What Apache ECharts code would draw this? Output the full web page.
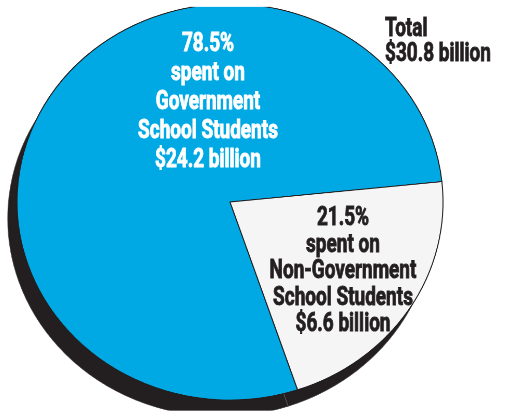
<!DOCTYPE html>
<html>
<head>
<meta charset="utf-8">
<script src="https://cdn.jsdelivr.net/npm/echarts@6/dist/echarts.min.js"></script>
<style>
  html, body { margin: 0; padding: 0; background: #ffffff; }
  #wrap { position: relative; width: 506px; height: 418px; overflow: hidden; }
  #pie, #text { position: absolute; left: 0; top: 0; width: 506px; height: 418px; }
  /* the pie is drawn slightly oval */
  #pie { transform-origin: 230px 202px; transform: scale(1.039, 0.966); }
  #text { pointer-events: none; }
</style>
</head>
<body>
<div id="wrap">
  <div id="pie"></div>
  <div id="text"></div>
</div>
<script>
// School funding split, in percent of total and in billions of dollars
const segments = ['Government School Students', 'Non-Government School Students'];
const shares = [78.5, 21.5];
const amounts = [24.2, 6.6];
const totalAmount = 30.8;

const sliceColors = ['#00a9e4', '#f5f5f5'];
const inkColor = '#231f20';

const pieData = segments.map((name, i) => ({ name, value: shares[i] }));

const pieChart = echarts.init(document.getElementById('pie'), null, { renderer: 'canvas', devicePixelRatio: 2 });
pieChart.setOption({
  animation: false,
  series: [
    {
      // dark base that shows as a rim below and to the left
      type: 'pie',
      silent: true,
      center: [221, 219],
      radius: [0, 205],
      startAngle: 288.5,
      clockwise: true,
      label: { show: false },
      labelLine: { show: false },
      data: pieData,
      itemStyle: { color: inkColor, borderColor: '#5c5859', borderWidth: 0.6 },
      z: 1
    },
    {
      type: 'pie',
      silent: true,
      center: [230, 202],
      radius: [0, 205],
      startAngle: 288.5,
      clockwise: true,
      label: { show: false },
      labelLine: { show: false },
      data: pieData.map((d, i) => ({ ...d, itemStyle: { color: sliceColors[i] } })),
      itemStyle: { borderColor: inkColor, borderWidth: 1 },
      z: 2
    }
  ]
});

// Text layer: heavy, narrow lettering
const font = 'bold 26px Roboto, "Liberation Sans", sans-serif';
const squeeze = 0.73;
const sliceText = i => `${shares[i]}%\nspent on\n${segments[i].replace(' School ', '\nSchool ')}\n$${amounts[i]} billion`;
const heavy = (color) => ({ fill: color, stroke: color, lineWidth: 0.9, font, verticalAlign: 'top' });

const textChart = echarts.init(document.getElementById('text'), null, { renderer: 'canvas' });
textChart.setOption({
  animation: false,
  graphic: [
    {
      type: 'text', x: 208, y: 30, scaleX: squeeze, silent: true,
      style: { ...heavy('#ffffff'), text: sliceText(0), align: 'center', lineHeight: 29 }
    },
    {
      type: 'text', x: 343, y: 205.5, scaleX: squeeze, silent: true,
      style: { ...heavy(inkColor), text: sliceText(1), align: 'center', lineHeight: 26.5 }
    },
    {
      type: 'text', x: 385, y: 16.5, scaleX: squeeze, silent: true,
      style: { ...heavy(inkColor), text: `Total\n$${totalAmount} billion`, align: 'left', lineHeight: 25.5 }
    }
  ]
});
</script>
</body>
</html>
